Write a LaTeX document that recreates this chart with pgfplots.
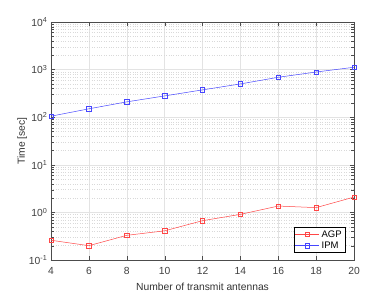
\documentclass[border=0pt]{standalone}
\usepackage{fontspec}
\setmainfont{Liberation Sans}
\usepackage{pgfplots}
\pgfplotsset{compat=1.18}
\definecolor{agp}{RGB}{255,70,70}
\definecolor{ipm}{RGB}{70,70,255}
\begin{document}
\fontsize{10.3}{12}\selectfont
\begin{tikzpicture}[x=1pt,y=1pt]
\begin{axis}[
  at={(0,0)}, anchor=south west,
  scale only axis, width=303pt, height=238pt,
  ymode=log, xmin=4, xmax=20, ymin=0.1, ymax=10000,
  xtick={4,6,...,20},
  ytick={0.1,1,10,100,1000,10000},
  yticklabels={10\textsuperscript{-1},10\textsuperscript{0},10\textsuperscript{1},10\textsuperscript{2},10\textsuperscript{3},10\textsuperscript{4}},
  /pgf/number format/assume math mode=true,
  grid=both,
  major grid style={gray!22, line width=0.5pt},
  minor grid style={gray!30, dotted, line width=0.4pt},
  axis line style={gray!60!black, line width=0.5pt},
  tick style={gray!60!black},
  tick align=inside,
  xtick pos=both, ytick pos=both,
  ticklabel style={font=\fontsize{10.3}{12}\selectfont, text=black!75},
  label style={font=\fontsize{10.3}{12}\selectfont, text=black!80},
  xticklabel style={yshift=-4pt},
  xlabel={Number of transmit antennas},
  ylabel={Time [sec]},
  xlabel style={yshift=-1pt},
  ylabel style={yshift=-5pt},
  legend pos=south east,
  legend cell align=left,
  legend style={font=\fontsize{9.5}{10}\selectfont, draw=black, line width=0.4pt, inner sep=1pt, row sep=-1pt},
  legend image code/.code={\draw[#1] (0mm,0mm) -- (8.5mm,0mm); \draw[#1,only marks] plot coordinates {(4.25mm,0mm)};},
]
\addplot[agp, mark=square, mark size=2.2pt, line width=0.5pt] coordinates {
(4,0.26) (6,0.20) (8,0.33) (10,0.41) (12,0.67) (14,0.91) (16,1.36) (18,1.26) (20,2.1)};
\addlegendentry{AGP}
\addplot[ipm, mark=square, mark size=2.2pt, line width=0.5pt] coordinates {
(4,105) (6,150) (8,210) (10,280) (12,375) (14,500) (16,690) (18,890) (20,1120)};
\addlegendentry{IPM}
\end{axis}
\path[use as bounding box] (-51pt,-33pt) rectangle ++(390pt,293pt);
\end{tikzpicture}
\end{document}
